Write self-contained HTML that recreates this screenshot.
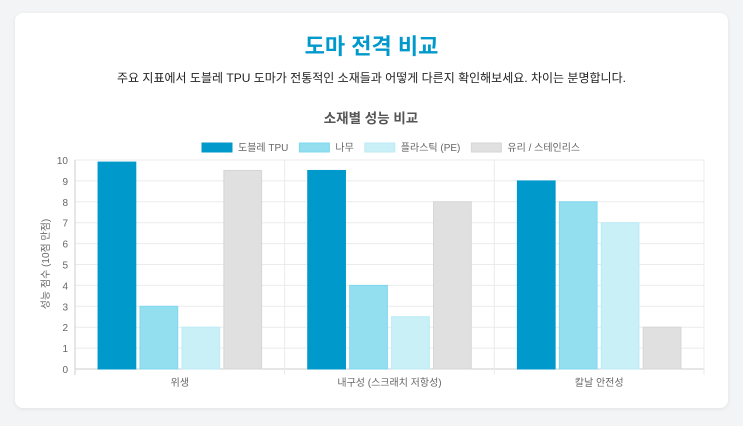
<!DOCTYPE html>
<html><head><meta charset="utf-8">
<style>
body{margin:0;background:#f3f4f6;width:743px;height:426px;overflow:hidden;font-family:"Liberation Sans","Noto Sans CJK KR",sans-serif;}
.card{position:absolute;left:15px;top:13px;width:713px;height:395px;background:#fff;border-radius:8px;box-shadow:0 1px 4px rgba(0,0,0,.08);}
h1{position:absolute;left:0;right:0;top:33px;margin:0;text-align:center;font-size:22px;font-weight:bold;color:#0099cc;line-height:28px;}
p{position:absolute;left:0;right:0;top:70px;margin:0;text-align:center;font-size:12px;color:#222;line-height:17px;}
svg{position:absolute;left:0;top:0;}
</style></head><body>
<div class="card"></div>
<h1>도마 전격 비교</h1>
<p>주요 지표에서 도블레 TPU 도마가 전통적인 소재들과 어떻게 다른지 확인해보세요. 차이는 분명합니다.</p>
<svg id="c" width="743" height="426" font-family="Liberation Sans, Noto Sans CJK KR, sans-serif"></svg>
<script>
const categories=["위생","내구성 (스크래치 저항성)","칼날 안전성"];
const seriesNames=["도블레 TPU","나무","플라스틱 (PE)","유리 / 스테인리스"];
const tpuValues=[9.9,9.5,9];
const woodValues=[3,4,8];
const plasticValues=[2,2.5,7];
const glassValues=[9.5,8,2];
const yTicks=[0,1,2,3,4,5,6,7,8,9,10];
const series=[tpuValues,woodValues,plasticValues,glassValues];
const fills=["#0099cc","#93dff0","#c9eff7","#e0e0e0"];
const strokes=["#0099cc","#7fd8ee","#bcebf6","#d6d6d6"];
const svg=document.getElementById('c');const NS="http://www.w3.org/2000/svg";
const L=75,R=704,T=160,B=369;
const y=v=>B-(v/10)*(B-T);
const cw=(R-L)/categories.length;
function mk(t,a,txt){const e=document.createElementNS(NS,t);for(const k in a)e.setAttribute(k,a[k]);if(txt!=null)e.textContent=txt;svg.appendChild(e);return e;}
let e;
e=mk('text',{x:371,y:123,'text-anchor':'middle','font-size':13.5,'font-weight':'bold',fill:'#555'},'소재별 성능 비교');


yTicks.forEach(t=>{
 e=mk('line',{x1:L,x2:R,y1:y(t),y2:y(t),stroke:t===0?'#ccc':'#ebebeb','stroke-width':1});
 
 
 e=mk('text',{x:L-7,y:y(t)+4,'text-anchor':'end','font-size':10,fill:'#666'},t);
 
 
});
for(let i=0;i<=categories.length;i++){
 e=mk('line',{x1:L+i*cw,x2:L+i*cw,y1:T,y2:B+6,stroke:i===0?'#ccc':'#ebebeb'});
 
 
}
const gw=cw*0.8,slot=gw/series.length,bw=slot*0.9;
categories.forEach((c,ci)=>{
 series.forEach((s,si)=>{
  const x=L+ci*cw+cw*0.1+si*slot+(slot-bw)/2;
  e=mk('rect',{x:x,y:y(s[ci]),width:bw,height:B-y(s[ci]),fill:fills[si],stroke:strokes[si],'stroke-width':1});
  
  
 });
 e=mk('text',{x:L+ci*cw+cw/2,y:386,'text-anchor':'middle','font-size':10,fill:'#666'},c);
 
 
});
e=mk('text',{x:0,y:0,transform:'translate(49,264) rotate(-90)','text-anchor':'middle','font-size':10,fill:'#666'},'성능 점수 (10점 만점)');


let lx=202;
seriesNames.forEach((n,i)=>{
 e=mk('rect',{x:lx,y:143,width:30,height:9,fill:fills[i],stroke:strokes[i]});
 
 
 const t=mk('text',{x:lx+36,y:151,'font-size':10,fill:'#666'},n);
 
 
 lx+=36+t.getComputedTextLength()+11;
});
</script>
</body></html>
